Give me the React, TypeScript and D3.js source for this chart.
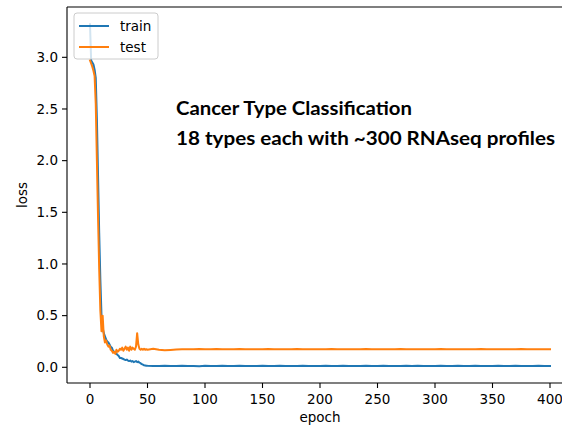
import React from "react";
import * as d3 from "d3";

// Per-epoch loss for the first 51 epochs (0..50)
const earlyEpochs: number[] = d3.range(0, 51);
const trainEarly: number[] = [
  3.32, 2.97, 2.95, 2.93, 2.88, 2.8, 2.4, 1.85, 1.3, 0.85,
  0.5, 0.38, 0.33, 0.3, 0.27, 0.25, 0.24, 0.22, 0.2, 0.19,
  0.16, 0.15, 0.14, 0.13, 0.12, 0.11, 0.09, 0.09, 0.085, 0.08,
  0.075, 0.07, 0.075, 0.065, 0.06, 0.065, 0.055, 0.06, 0.05, 0.055,
  0.06, 0.05, 0.055, 0.045, 0.04, 0.03, 0.025, 0.02, 0.018, 0.015,
  0.014,
];
const testEarly: number[] = [
  2.97, 2.94, 2.91, 2.87, 2.82, 2.55, 2.0, 1.45, 0.95, 0.55,
  0.35, 0.5, 0.3, 0.24, 0.26, 0.22, 0.2, 0.21, 0.17, 0.16,
  0.14, 0.15, 0.13, 0.17, 0.15, 0.16, 0.18, 0.17, 0.19, 0.16,
  0.18, 0.2, 0.17, 0.19, 0.16, 0.2, 0.17, 0.19, 0.18, 0.17,
  0.2, 0.33, 0.22, 0.18, 0.17, 0.18, 0.17, 0.18, 0.17, 0.175,
  0.17,
];

// Sampled every 5 epochs after that (55..400)
const lateEpochs: number[] = d3.range(55, 401, 5);
const trainLate: number[] = [
  0.013, 0.012, 0.014, 0.012, 0.013, 0.015, 0.012, 0.013, 0.011, 0.014,
  0.013, 0.012, 0.014, 0.013, 0.012, 0.015, 0.013, 0.012, 0.013, 0.014,
  0.012, 0.013, 0.015, 0.012, 0.013, 0.012, 0.014, 0.013, 0.012, 0.013,
  0.015, 0.013, 0.012, 0.014, 0.012, 0.013, 0.013, 0.015, 0.012, 0.013,
  0.014, 0.012, 0.013, 0.012, 0.014, 0.013, 0.015, 0.012, 0.013, 0.012,
  0.014, 0.013, 0.012, 0.015, 0.013, 0.012, 0.014, 0.013, 0.012, 0.013,
  0.015, 0.012, 0.013, 0.014, 0.012, 0.013, 0.012, 0.014, 0.013, 0.013,
];
const testLate: number[] = [
  0.18, 0.17, 0.165, 0.168, 0.172, 0.174, 0.175, 0.175, 0.176, 0.175,
  0.175, 0.176, 0.175, 0.175, 0.175, 0.176, 0.175, 0.175, 0.175, 0.175,
  0.176, 0.175, 0.175, 0.175, 0.175, 0.176, 0.175, 0.175, 0.175, 0.175,
  0.175, 0.176, 0.175, 0.175, 0.175, 0.175, 0.175, 0.176, 0.175, 0.175,
  0.175, 0.175, 0.175, 0.176, 0.175, 0.175, 0.175, 0.175, 0.175, 0.175,
  0.176, 0.175, 0.175, 0.175, 0.175, 0.175, 0.175, 0.176, 0.175, 0.175,
  0.175, 0.175, 0.175, 0.175, 0.176, 0.175, 0.175, 0.175, 0.175, 0.175,
];

const xTicks: number[] = [0, 50, 100, 150, 200, 250, 300, 350, 400];
const yTicks: number[] = [0, 0.5, 1.0, 1.5, 2.0, 2.5, 3.0];
const seriesNames: string[] = ["train", "test"];
const seriesColors: string[] = ["#1f77b4", "#ff7f0e"];
const titleLines: string[] = [
  "Cancer Type Classification",
  "18 types each with ~300 RNAseq profiles",
];
const titleWidths: number[] = [236, 379];

const W = 562;
const H = 425;
const left = 67;
const right = 573;
const top = 7;
const bottom = 383;

export default function App() {
  const x = d3.scaleLinear().domain([-20, 420]).range([left, right]);
  const y = d3.scaleLinear().domain([-0.152, 3.487]).range([bottom, top]);

  const toPts = (ep: number[], v: number[]) => ep.map((e, i) => [e, v[i]] as [number, number]);
  const series = [
    toPts(earlyEpochs, trainEarly).concat(toPts(lateEpochs, trainLate)),
    toPts(earlyEpochs, testEarly).concat(toPts(lateEpochs, testLate)),
  ];
  const line = d3
    .line<[number, number]>()
    .x((d) => x(d[0]))
    .y((d) => y(d[1]));

  const font = "DejaVu Sans, sans-serif";
  const fs = 13.5;

  return (
    <svg
      width={W}
      height={H}
      style={{ position: "absolute", left: 0, top: 0, background: "#fff" }}
      fontFamily={font}
    >
      <defs>
        <clipPath id="plotArea">
          <rect x={left} y={top} width={right - left} height={bottom - top} />
        </clipPath>
      </defs>

      {/* curves */}
      <g clipPath="url(#plotArea)">
        {series.map((pts, i) => (
          <path
            key={i}
            d={line(pts) ?? ""}
            fill="none"
            stroke={seriesColors[i]}
            strokeWidth={2}
            strokeLinejoin="round"
            strokeLinecap="square"
          />
        ))}
      </g>

      {/* spines */}
      <g stroke="#000" strokeWidth={1.1} fill="none">
        <line x1={left} x2={left} y1={top} y2={bottom} />
        <line x1={left} x2={right} y1={bottom} y2={bottom} />
        <line x1={left} x2={right} y1={top} y2={top} />
        <line x1={right} x2={right} y1={top} y2={bottom} />
      </g>

      {/* y axis */}
      {yTicks.map((t) => (
        <g key={t} transform={`translate(0,${y(t)})`}>
          <line x1={left - 5} x2={left} stroke="#000" strokeWidth={1.1} />
          <text x={left - 9} dy="0.35em" textAnchor="end" fontSize={fs} fill="#000">
            {t.toFixed(1)}
          </text>
        </g>
      ))}

      {/* x axis */}
      {xTicks.map((t) => (
        <g key={t} transform={`translate(${x(t)},0)`}>
          <line y1={bottom} y2={bottom + 5} stroke="#000" strokeWidth={1.1} />
          <text y={bottom + 21} textAnchor="middle" fontSize={fs} fill="#000">
            {t}
          </text>
        </g>
      ))}

      <text x={(left + right) / 2} y={422} textAnchor="middle" fontSize={fs} fill="#000">
        epoch
      </text>
      <text
        transform={`translate(27,${(top + bottom) / 2}) rotate(-90)`}
        textAnchor="middle"
        fontSize={fs}
        fill="#000"
      >
        loss
      </text>

      {/* legend */}
      <g>
        <rect
          x={74}
          y={13}
          width={84}
          height={46}
          rx={3}
          fill="#fff"
          fillOpacity={0.8}
          stroke="#cccccc"
          strokeWidth={1}
        />
        {seriesNames.map((name, i) => (
          <g key={name} transform={`translate(0,${26 + i * 21})`}>
            <line x1={79} x2={109} stroke={seriesColors[i]} strokeWidth={2} />
            <text x={120} dy="0.35em" fontSize={fs} fill="#000">
              {name}
            </text>
          </g>
        ))}
      </g>

      {/* annotation */}
      {titleLines.map((s, i) => (
        <text
          key={i}
          x={176}
          y={115 + i * 30}
          fontFamily="Lato, 'Open Sans', sans-serif"
          fontWeight="bold"
          fontSize={19.5}
          textLength={titleWidths[i]}
          lengthAdjust="spacingAndGlyphs"
          fill="#000"
        >
          {s}
        </text>
      ))}
    </svg>
  );
}
